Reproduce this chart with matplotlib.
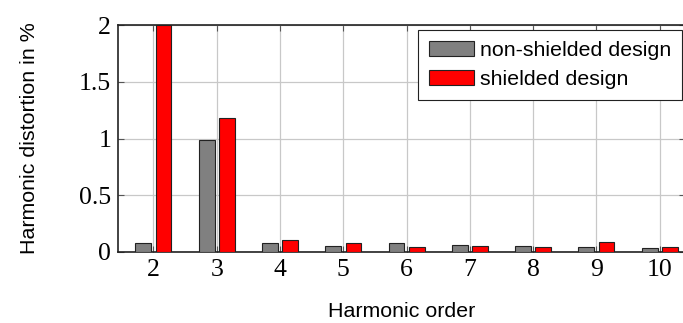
import numpy as np
import matplotlib
matplotlib.use('Agg')
import matplotlib.pyplot as plt

# harmonic order and distortion values (%)
orders = [2, 3, 4, 5, 6, 7, 8, 9, 10]
non_shielded = [0.08, 0.985, 0.08, 0.05, 0.077, 0.06, 0.053, 0.047, 0.032]
shielded = [2.0, 1.18, 0.11, 0.077, 0.047, 0.053, 0.047, 0.088, 0.044]

W, H = 683, 323
fig = plt.figure(figsize=(W / 100, H / 100), dpi=100)
ax = fig.add_axes([118 / W, 1 - 252 / H, 1.003 - 118 / W, (252 - 25) / H])

x = np.array(orders)
bw = 0.25
ax.bar(x - 0.16, non_shielded, width=bw, color='#808080', edgecolor='#222222',
       linewidth=0.8, label='non-shielded design', zorder=3)
ax.bar(x + 0.16, shielded, width=bw, color='#ff0000', edgecolor='#222222',
       linewidth=0.8, label='shielded design', zorder=3)

ax.set_xlim(1.44, 10.4)
ax.set_ylim(0, 2)
ax.set_xticks(orders)
ax.set_yticks([0, 0.5, 1, 1.5, 2])
ax.set_yticklabels(['0', '0.5', '1', '1.5', '2'])
ax.grid(True, color='#c8c8c8', linewidth=0.9, zorder=0)
ax.tick_params(direction='in', length=4, width=0.8, color='#555555',
               top=True, right=True, labelsize=18.5, pad=5)
for lab in ax.get_xticklabels() + ax.get_yticklabels():
    lab.set_fontfamily('Liberation Serif')
for s in ax.spines.values():
    s.set_linewidth(1.2)
    s.set_color('#222222')

ax.set_xlabel('Harmonic order', fontsize=15.4, family='Liberation Sans', labelpad=15)
ax.set_ylabel('Harmonic distortion in %', fontsize=15.4, family='Liberation Sans', labelpad=29)

leg = ax.legend(loc='upper right', bbox_to_anchor=(682 / W, 1 - 30 / H),
                bbox_transform=fig.transFigure, borderaxespad=0,
                prop={'family': 'Liberation Sans', 'size': 15.4},
                fancybox=False, framealpha=1, edgecolor='#222222',
                handlelength=2.1, handleheight=0.7, labelspacing=0.5,
                borderpad=0.5, handletextpad=0.3)
leg.get_frame().set_linewidth(0.8)

fig.savefig('out.png', dpi=100)
